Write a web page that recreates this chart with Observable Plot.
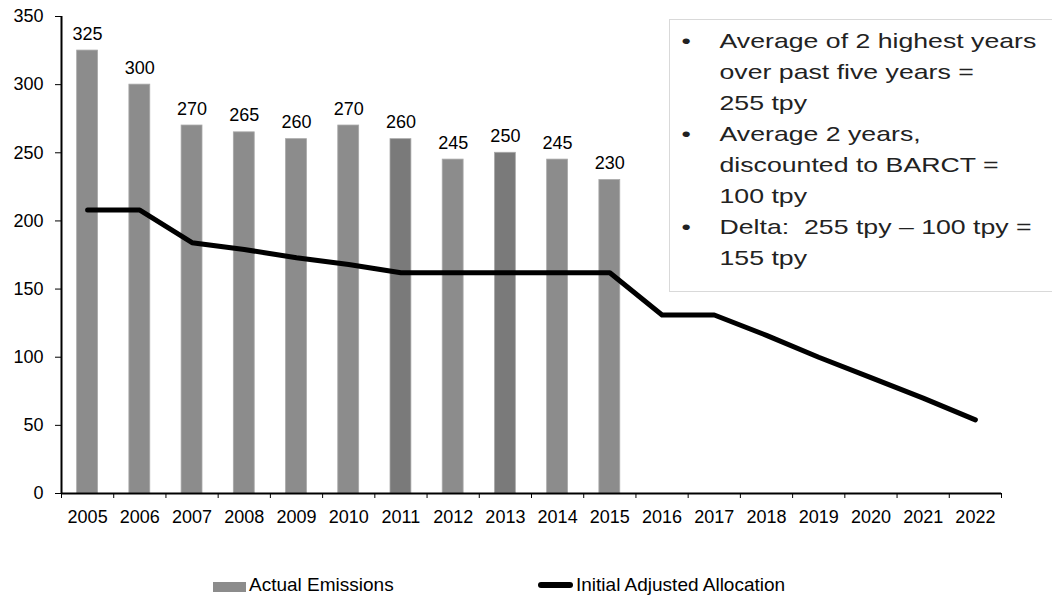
<!DOCTYPE html>
<html>
<head>
<meta charset="utf-8">
<script src="https://cdn.jsdelivr.net/npm/d3@7"></script>
<script src="https://cdn.jsdelivr.net/npm/@observablehq/plot@0.6"></script>
<style>
  html, body { margin: 0; padding: 0; background: #fff; }
  #wrap { position: relative; width: 1052px; height: 599px; overflow: hidden; font-family: "Liberation Sans", Arial, sans-serif; color: #000; }
  #chart svg { display: block; }
  #note { position: absolute; left: 669px; top: 19px; width: 400px; height: 273px; border: 1px solid #d9d9d9; background: #fff; box-sizing: border-box; }
  #note .inner { position: absolute; left: 0; top: 5px; transform: scaleX(1.27); transform-origin: 0 0; font-size: 21px; line-height: 31px; color: #222; white-space: nowrap; }
  #note .item { position: relative; padding-left: 39px; }
  #note .bul { position: absolute; left: 9px; top: 0; }
  .leg { position: absolute; font-size: 19px; line-height: 20px; white-space: nowrap; }
</style>
</head>
<body>
<div id="wrap">
  <div id="chart"></div>
  <div id="note">
    <div class="inner">
      <div class="item"><span class="bul">•</span>Average of 2 highest years<br>over past five years =<br>255 tpy</div>
      <div class="item"><span class="bul">•</span>Average 2 years,<br>discounted to BARCT =<br>100 tpy</div>
      <div class="item"><span class="bul">•</span>Delta:&nbsp; 255 tpy – 100 tpy =<br>155 tpy</div>
    </div>
  </div>
  <div class="leg" style="left:213px; top:582px; width:33px; height:10px; background:#8c8c8c;"></div>
  <div class="leg" style="left:249px; top:575px;">Actual Emissions</div>
  <div class="leg" style="left:538px; top:582px; width:35px; height:6px; background:#000; border-radius:3px;"></div>
  <div class="leg" style="left:576px; top:575px;">Initial Adjusted Allocation</div>
</div>
<script>
const years = [2005, 2006, 2007, 2008, 2009, 2010, 2011, 2012, 2013, 2014, 2015, 2016, 2017, 2018, 2019, 2020, 2021, 2022];
const emissionYears = [2005, 2006, 2007, 2008, 2009, 2010, 2011, 2012, 2013, 2014, 2015];
const emissions = [325, 300, 270, 265, 260, 270, 260, 245, 250, 245, 230];
const darkerYears = [2011, 2013];
const allocation = [208, 208, 184, 179, 173, 168, 162, 162, 162, 162, 162, 131, 131, 116, 100, 85, 70, 54];
const yTicks = [0, 50, 100, 150, 200, 250, 300, 350];

const bars = emissionYears.map((yr, i) => ({year: yr, value: emissions[i], dark: darkerYears.includes(yr)}));
const allocData = years.map((yr, i) => ({year: yr, value: allocation[i]}));
const bounds = years.map(yr => yr - 0.5).concat([years[years.length - 1] + 0.5]);

const chart = Plot.plot({
  width: 1052,
  height: 530,
  marginTop: 16,
  marginLeft: 61,
  marginRight: 51,
  marginBottom: 37,
  style: {fontFamily: "'Liberation Sans', Arial, sans-serif", fontSize: "18px", color: "#000", background: "transparent", overflow: "visible"},
  x: {type: "linear", domain: [bounds[0], bounds[bounds.length - 1]]},
  y: {domain: [0, 350]},
  marks: [
    Plot.rectY(bars.filter(d => !d.dark), {x1: d => d.year - 0.2, x2: d => d.year + 0.2, y: "value", fill: "#8c8c8c", stroke: "#a8a8a8", strokeWidth: 0.8}),
    Plot.rectY(bars.filter(d => d.dark), {x1: d => d.year - 0.2, x2: d => d.year + 0.2, y: "value", fill: "#7a7a7a", stroke: "#a8a8a8", strokeWidth: 0.8}),
    Plot.text(bars, {x: "year", y: "value", text: d => String(d.value), lineAnchor: "bottom", dy: -11, fontSize: 18, fill: "#000"}),
    Plot.line(allocData, {x: "year", y: "value", stroke: "#000", strokeWidth: 5, strokeLinejoin: "round", strokeLinecap: "round"}),
    Plot.ruleY([0], {stroke: "#000", strokeWidth: 2}),
    Plot.ruleX([bounds[0]], {stroke: "#000", strokeWidth: 2}),
    Plot.axisY({ticks: yTicks, tickSize: 6, tickPadding: 12, label: null, fontSize: 18, stroke: "#000"}),
    Plot.axisX({ticks: bounds, tickSize: 5, tickFormat: () => "", label: null, stroke: "#000"}),
    Plot.axisX({ticks: years, tickSize: 0, tickPadding: 17, tickFormat: d => String(d), label: null, fontSize: 18})
  ]
});
document.getElementById("chart").appendChild(chart);
</script>
</body>
</html>
